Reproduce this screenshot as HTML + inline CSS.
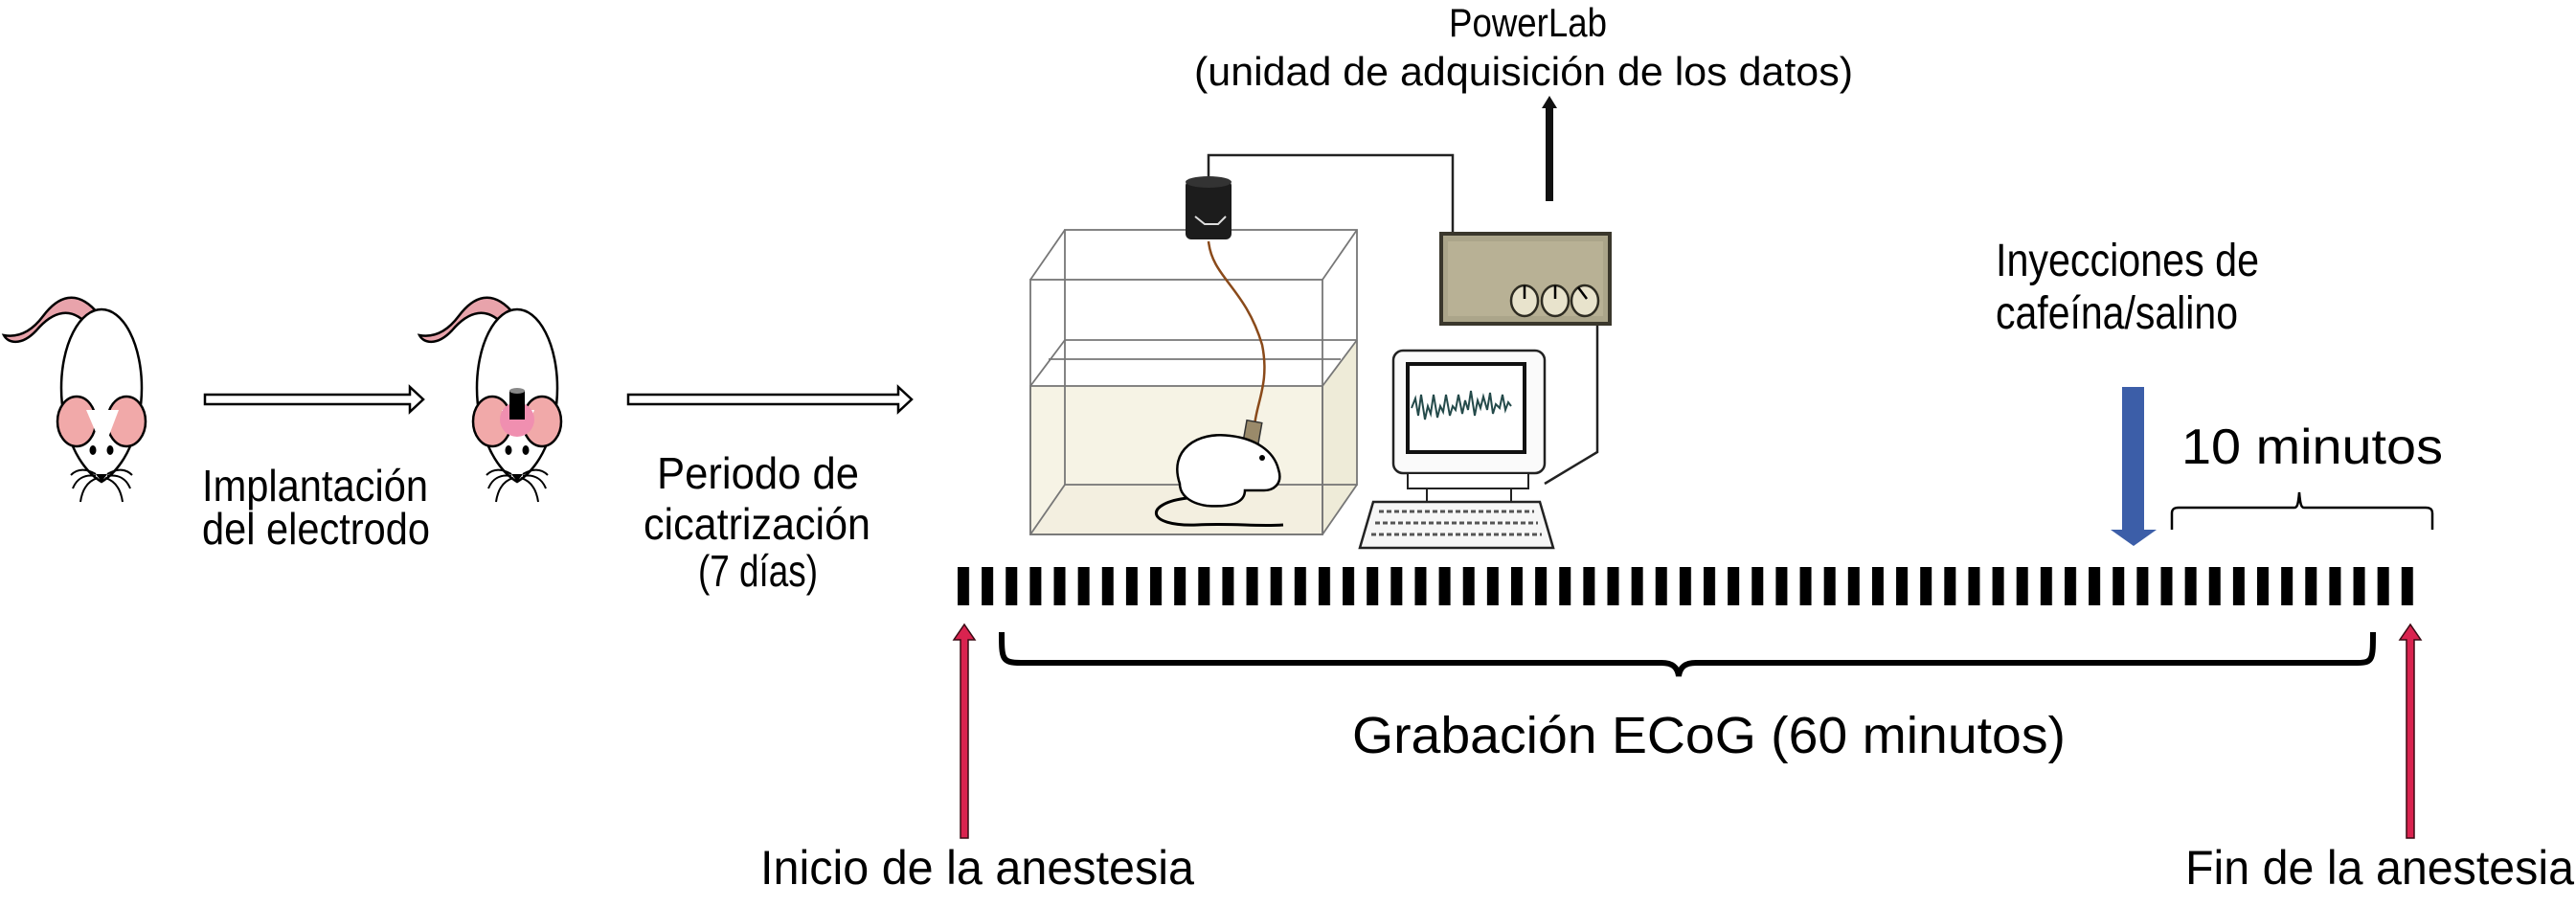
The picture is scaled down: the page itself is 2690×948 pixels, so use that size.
<!DOCTYPE html>
<html><head><meta charset="utf-8"><style>
html,body{margin:0;padding:0;background:#fff;}
svg{display:block;}
text{font-family:"Liberation Sans",Arial,sans-serif;fill:#000;}
</style></head><body>
<svg width="2690" height="948" viewBox="0 0 2690 948" xmlns="http://www.w3.org/2000/svg">
<defs>
<g id="mouse">
  <path d="M103,328 C80,300 60,310 45,330 C30,350 15,352 4,350 C8,358 22,362 38,345 C55,325 75,318 94,342 Z" fill="#e8a3ab" stroke="#000" stroke-width="2.5"/>
  <ellipse cx="106" cy="405" rx="42" ry="82" fill="#fff" stroke="#000" stroke-width="2.5"/>
  <path d="M68,430 C70,470 92,495 106,503 C120,495 142,470 144,430 Z" fill="#fff" stroke="#000" stroke-width="2.5"/>
  <ellipse cx="80" cy="440" rx="20" ry="26" fill="#f1a9a9" stroke="#000" stroke-width="2.5"/>
  <ellipse cx="132" cy="440" rx="20" ry="26" fill="#f1a9a9" stroke="#000" stroke-width="2.5"/>
  <path d="M90,428 L108,470 L124,428 Z" fill="#fff"/>
  <ellipse cx="97" cy="470" rx="3.5" ry="5" fill="#000"/>
  <ellipse cx="115" cy="470" rx="3.5" ry="5" fill="#000"/>
  <path d="M100,495 L112,495 L106,503 Z" fill="#000"/>
  <g stroke="#000" stroke-width="2" fill="none">
   <path d="M100,495 C88,488 80,490 74,496"/><path d="M100,497 C88,495 80,500 76,510"/><path d="M102,499 C92,502 86,510 84,524"/>
   <path d="M112,495 C124,488 132,490 138,496"/><path d="M112,497 C124,495 132,500 136,510"/><path d="M110,499 C120,502 126,510 128,524"/>
  </g>
</g>
<pattern id="barpat" x="1000" y="0" width="25.13" height="948" patternUnits="userSpaceOnUse">
  <rect x="0" y="0" width="12" height="948" fill="#000"/>
</pattern>
</defs>

<use href="#mouse"/>
<g transform="translate(434,0)">
  <use href="#mouse"/>
  <circle cx="106" cy="438" r="18" fill="#f08fb0"/>
  <rect x="98" y="408" width="16" height="30" fill="#000"/>
  <ellipse cx="106" cy="408" rx="8" ry="3" fill="#888"/>
</g>

<path d="M214,412 L428,412 L428,404 L442,417 L428,430 L428,422 L214,422 Z" fill="#fff" stroke="#000" stroke-width="2.5"/>
<path d="M656,412 L938,412 L938,404 L952,417 L938,430 L938,422 L656,422 Z" fill="#fff" stroke="#000" stroke-width="2.5"/>

<text x="211" y="523" font-size="46" textLength="236" lengthAdjust="spacingAndGlyphs">Implantación</text>
<text x="211" y="568" font-size="46" textLength="238" lengthAdjust="spacingAndGlyphs">del electrodo</text>
<text x="686" y="510" font-size="46" textLength="211" lengthAdjust="spacingAndGlyphs">Periodo de</text>
<text x="672" y="563" font-size="46" textLength="237" lengthAdjust="spacingAndGlyphs">cicatrización</text>
<text x="729" y="612" font-size="46" textLength="125" lengthAdjust="spacingAndGlyphs">(7 días)</text>

<text x="1513" y="38" font-size="42" textLength="165" lengthAdjust="spacingAndGlyphs">PowerLab</text>
<text x="1247" y="89" font-size="42" textLength="688" lengthAdjust="spacingAndGlyphs">(unidad de adquisición de los datos)</text>
<rect x="1614" y="112" width="8" height="98" fill="#111"/>
<path d="M1610,113 L1618,100 L1626,113 Z" fill="#111"/>

<path d="M1112,506 L1417,506 L1381,558 L1076,558 Z" fill="#d9d3c7"/>
<path d="M1076,403 L1381,403 L1381,558 L1076,558 Z" fill="#f5f2e2" opacity="0.9"/>
<path d="M1381,403 L1417,355 L1417,506 L1381,558 Z" fill="#eeebd8"/>
<g stroke="#777" stroke-width="1.8" fill="none">
  <rect x="1076" y="292" width="305" height="266"/>
  <rect x="1112" y="240" width="305" height="266"/>
  <line x1="1076" y1="292" x2="1112" y2="240"/><line x1="1381" y1="292" x2="1417" y2="240"/>
  <line x1="1076" y1="558" x2="1112" y2="506"/><line x1="1381" y1="558" x2="1417" y2="506"/>
  <rect x="1076" y="403" width="305" height="155"/>
  <line x1="1076" y1="403" x2="1112" y2="355"/><line x1="1381" y1="403" x2="1417" y2="355"/>
  <line x1="1112" y1="355" x2="1417" y2="355"/>
  <line x1="1095" y1="375" x2="1400" y2="375"/>
</g>
<path d="M1262,188 L1262,162 L1517,162 L1517,244" stroke="#222" stroke-width="2.5" fill="none"/>
<path d="M1668,338 L1668,472 L1613,505" stroke="#222" stroke-width="2.5" fill="none"/>
<rect x="1238" y="188" width="48" height="62" rx="6" fill="#1c1c1c"/>
<ellipse cx="1262" cy="190" rx="24" ry="6" fill="#333"/>
<path d="M1248,226 L1258,234 L1272,234 L1280,226" stroke="#ddd" stroke-width="2" fill="none"/>
<path d="M1262,252 C1266,290 1300,300 1318,360 C1326,400 1312,420 1310,445" stroke="#8a4a1a" stroke-width="2.5" fill="none"/>
<rect x="1300" y="440" width="16" height="22" fill="#9a8a6a" stroke="#333" stroke-width="1.5" transform="rotate(10 1308 451)"/>
<path d="M1240,520 C1195,525 1195,550 1250,548 C1290,546 1310,550 1340,548" stroke="#000" stroke-width="3" fill="none"/>
<path d="M1232,505 C1220,470 1250,450 1285,455 C1310,458 1330,470 1335,490 C1340,505 1330,512 1320,512 L1300,512 C1300,525 1285,530 1260,528 C1240,525 1232,515 1232,505 Z" fill="#fff" stroke="#000" stroke-width="2.5"/>
<circle cx="1318" cy="478" r="3" fill="#000"/>

<rect x="1505" y="244" width="176" height="94" fill="#aba58a" stroke="#3a372c" stroke-width="4"/>
<rect x="1512" y="252" width="162" height="78" fill="#b8b195"/>
<g fill="#e8e3cc" stroke="#2e2c22" stroke-width="2.5">
  <ellipse cx="1592" cy="314" rx="14" ry="16"/><ellipse cx="1624" cy="314" rx="14" ry="16"/><ellipse cx="1655" cy="314" rx="14" ry="16"/>
</g>
<g stroke="#000" stroke-width="2.5"><line x1="1592" y1="298" x2="1592" y2="312"/><line x1="1624" y1="298" x2="1624" y2="312"/><line x1="1648" y1="300" x2="1657" y2="312"/></g>

<rect x="1455" y="366" width="158" height="128" rx="10" fill="#fafafa" stroke="#222" stroke-width="2.5"/>
<rect x="1470" y="380" width="122" height="92" fill="#fff" stroke="#111" stroke-width="4"/>
<path d="M1474,426 l4,-10 l3,18 l3,-22 l4,26 l3,-14 l3,8 l3,-20 l4,24 l3,-12 l3,6 l3,-18 l4,22 l3,-10 l3,4 l3,-16 l4,20 l3,-14 l3,10 l3,-20 l4,26 l3,-16 l3,8 l3,-12 l4,14 l3,-18 l3,22 l3,-10 l4,4 l3,-14 l3,16 l3,-8 l3,4" stroke="#244a4a" stroke-width="2" fill="none"/>
<rect x="1470" y="494" width="126" height="16" fill="#fff" stroke="#222" stroke-width="2"/>
<rect x="1490" y="510" width="88" height="14" fill="#fff" stroke="#222" stroke-width="2"/>
<path d="M1434,524 L1608,524 L1622,572 L1420,572 Z" fill="#f6f6f6" stroke="#222" stroke-width="2.5"/>
<g stroke="#555" stroke-width="3" stroke-dasharray="5 3"><line x1="1440" y1="534" x2="1602" y2="534"/><line x1="1436" y1="546" x2="1606" y2="546"/><line x1="1432" y1="558" x2="1610" y2="558"/></g>

<rect x="1000" y="592" width="1521" height="40" fill="url(#barpat)"/>

<path d="M1046,660 C1046,688 1046,692 1066,692 L1735,692 C1748,692 1752,698 1753,706 C1754,698 1758,692 1771,692 L2462,692 C2478,692 2478,688 2478,660" stroke="#000" stroke-width="6" fill="none"/>
<text x="1412" y="786" font-size="54" textLength="745" lengthAdjust="spacingAndGlyphs">Grabación ECoG (60 minutos)</text>

<g fill="#d9234f" stroke="#3a0a14" stroke-width="1.5">
  <path d="M1003,875 L1003,668 L996,668 L1007,652 L1018,668 L1011,668 L1011,875 Z"/>
  <path d="M2513,875 L2513,668 L2506,668 L2517,652 L2528,668 L2521,668 L2521,875 Z"/>
</g>
<text x="794" y="923" font-size="50" textLength="453" lengthAdjust="spacingAndGlyphs">Inicio de la anestesia</text>
<text x="2282" y="923" font-size="50" textLength="406" lengthAdjust="spacingAndGlyphs">Fin de la anestesia</text>

<path d="M2216,404 L2239,404 L2239,553 L2252,553 L2228,570 L2204,553 L2216,553 Z" fill="#3c5ea8"/>
<text x="2084" y="288" font-size="48" textLength="275" lengthAdjust="spacingAndGlyphs">Inyecciones de</text>
<text x="2084" y="343" font-size="48" textLength="253" lengthAdjust="spacingAndGlyphs">cafeína/salino</text>

<path d="M2268,553 L2268,536 C2268,532 2270,530 2275,530 L2396,530 C2399,530 2400,526 2401,514 C2402,526 2403,530 2406,530 L2533,530 C2538,530 2540,532 2540,536 L2540,553" stroke="#000" stroke-width="2.5" fill="none"/>
<text x="2278" y="484" font-size="52" textLength="273" lengthAdjust="spacingAndGlyphs">10 minutos</text>
</svg>
</body></html>
